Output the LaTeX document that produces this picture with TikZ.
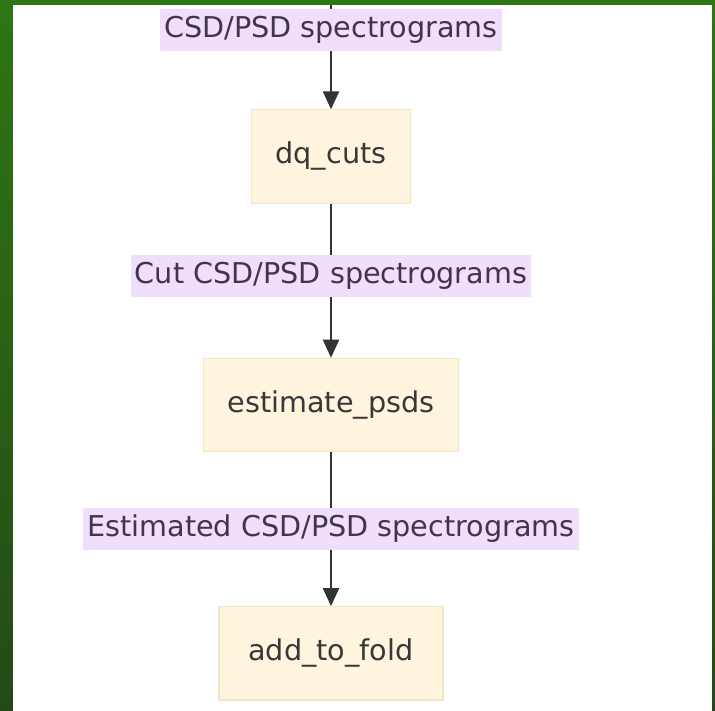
\documentclass[tikz,border=0pt]{standalone}
\usepackage{fontspec}
\setmainfont{DejaVu Sans}
\usepackage{xcolor}
\usepackage{tikz}
\usetikzlibrary{arrows.meta, positioning}
\definecolor{framegreen}{RGB}{47, 118, 20}
\definecolor{framedark}{RGB}{35, 74, 22}
\definecolor{boxfill}{RGB}{255, 244, 221}
\definecolor{boxline}{RGB}{242, 228, 196}
\definecolor{labelfill}{RGB}{240, 222, 252}
\definecolor{labeltext}{RGB}{64, 54, 76}
\definecolor{flowline}{RGB}{51, 51, 51}

\begin{document}
\begin{tikzpicture}[node distance=115.5pt, >={Stealth[inset=0pt, length=13.5pt, width=12pt]},
    stage/.style={rectangle, draw=boxline, fill=boxfill, line width=0.8pt, minimum height=70pt, inner xsep=18.2pt, text height=16pt, text depth=5pt, font=\fontsize{21.5pt}{26pt}\selectfont, text=black!78},
    flowlabel/.style={rectangle, fill=labelfill, minimum height=31.5pt, inner xsep=3pt, inner ysep=0pt, text height=16pt, text depth=5pt, font=\fontsize{21.5pt}{26pt}\selectfont, text=labeltext},
    arrow/.style={line width=1.6pt, ->, color=flowline}]

    % Frame
    \useasboundingbox (0,0) rectangle (536.25pt,-533.25pt);
    \shade[top color=framegreen, bottom color=framedark] (0,0) rectangle (536.25pt,-533.25pt);
    \fill[white] (9.75pt,-3.75pt) rectangle (534pt,-533.25pt);

    % Stages
    \coordinate (source) at (248.25pt,-3.75pt);
    \node[stage] (dq_cuts) at (248.25pt,-117.4pt) {dq\_cuts};
    \node[stage, below=of dq_cuts] (estimate_psds) {estimate\_psds};
    \node[stage, below=of estimate_psds, minimum width=168pt] (add_to_fold) {add\_to\_fold};

    % Connections
    \draw[arrow] (source) -- node[flowlabel, pos=0.24] (spectra_lbl) {CSD/PSD spectrograms} (dq_cuts);
    \draw[arrow] (dq_cuts) -- node[flowlabel, pos=0.47] (cut_lbl) {Cut CSD/PSD spectrograms} (estimate_psds);
    \draw[arrow] (estimate_psds) -- node[flowlabel, pos=0.5] (estimated_lbl) {Estimated CSD/PSD spectrograms} (add_to_fold);
\end{tikzpicture}
\end{document}
